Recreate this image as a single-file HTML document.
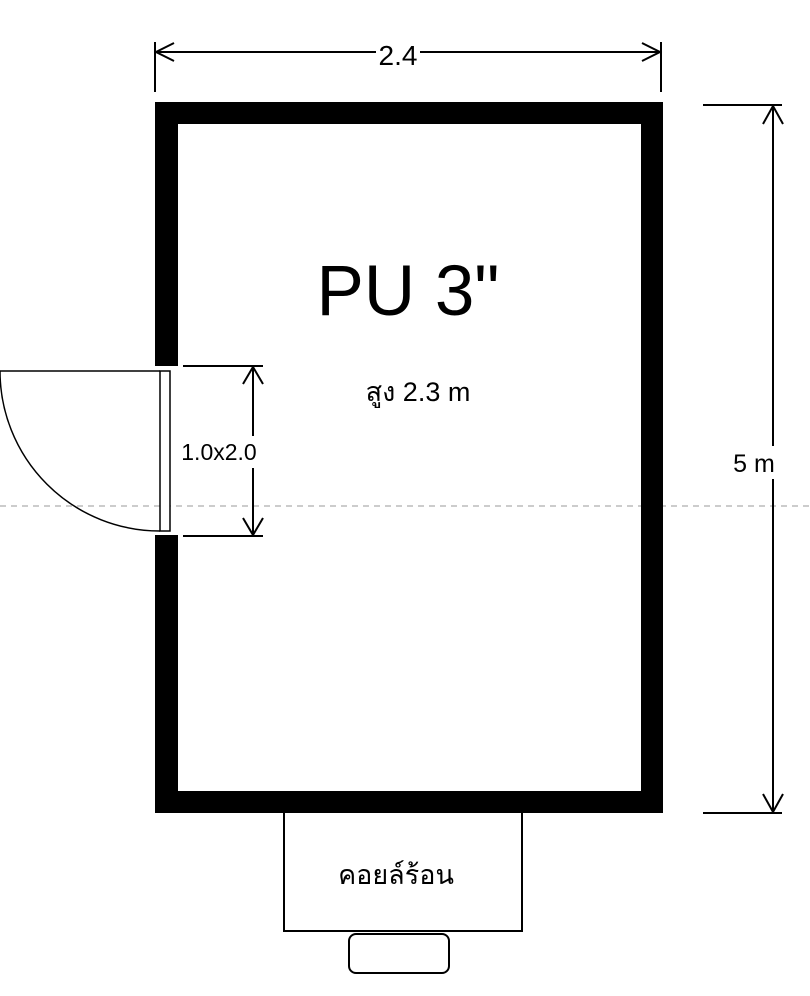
<!DOCTYPE html>
<html><head><meta charset="utf-8"><style>
html,body{margin:0;padding:0;background:#fff;width:810px;height:996px;overflow:hidden}
svg{display:block}
text{font-family:"Liberation Sans",Arial,sans-serif;fill:#000}
</style></head><body>
<svg width="810" height="996" viewBox="0 0 810 996">
<line x1="0" y1="506" x2="810" y2="506" stroke="#bbb" stroke-width="1.5" stroke-dasharray="6,5"/>
<g>
<rect x="155" y="102" width="508" height="22" fill="#000"/>
<rect x="641" y="102" width="22" height="711" fill="#000"/>
<rect x="155" y="791" width="508" height="22" fill="#000"/>
<rect x="155" y="102" width="23" height="264" fill="#000"/>
<rect x="155" y="535" width="23" height="278" fill="#000"/>
</g>
<g fill="none" stroke="#000" stroke-width="1.5">
<line x1="0" y1="371" x2="160" y2="371"/>
<path d="M0 371 A160 160 0 0 0 160 531"/>
<rect x="160" y="371" width="10" height="160" fill="#fff"/>
</g>
<g stroke="#000" stroke-width="2" fill="none">
<line x1="183" y1="366" x2="263" y2="366"/>
<line x1="183" y1="536" x2="263" y2="536"/>
<line x1="253" y1="366" x2="253" y2="436"/>
<line x1="253" y1="468" x2="253" y2="536"/>
<polyline points="243,384 253,367 263,384"/>
<polyline points="243,518 253,535 263,518"/>
</g>
<text x="219" y="460" font-size="23" text-anchor="middle">1.0x2.0</text>
<g stroke="#000" stroke-width="2" fill="none">
<line x1="155" y1="42" x2="155" y2="92"/>
<line x1="661" y1="42" x2="661" y2="92"/>
<line x1="156" y1="52" x2="376" y2="52"/>
<line x1="420" y1="52" x2="660" y2="52"/>
<polyline points="174,43 156,52 174,61"/>
<polyline points="642,43 660,52 642,61"/>
</g>
<text x="398" y="65" font-size="28" text-anchor="middle">2.4</text>
<g stroke="#000" stroke-width="2" fill="none">
<line x1="703" y1="105" x2="782" y2="105"/>
<line x1="703" y1="813" x2="782" y2="813"/>
<line x1="773" y1="106" x2="773" y2="446"/>
<line x1="773" y1="479" x2="773" y2="812"/>
<polyline points="763,124 773,106 783,124"/>
<polyline points="763,794 773,812 783,794"/>
</g>
<text x="754" y="472" font-size="25" text-anchor="middle">5 m</text>
<text x="408" y="315" font-size="71" text-anchor="middle">PU 3"</text>
<text x="418" y="401" font-size="27" text-anchor="middle">สูง 2.3 m</text>
<rect x="284" y="812" width="238" height="119" fill="#fff" stroke="#000" stroke-width="2"/>
<text x="396" y="884" font-size="27" text-anchor="middle">คอยล์ร้อน</text>
<rect x="349" y="934" width="100" height="39" rx="7" fill="#fff" stroke="#000" stroke-width="2"/>
</svg>
</body></html>
